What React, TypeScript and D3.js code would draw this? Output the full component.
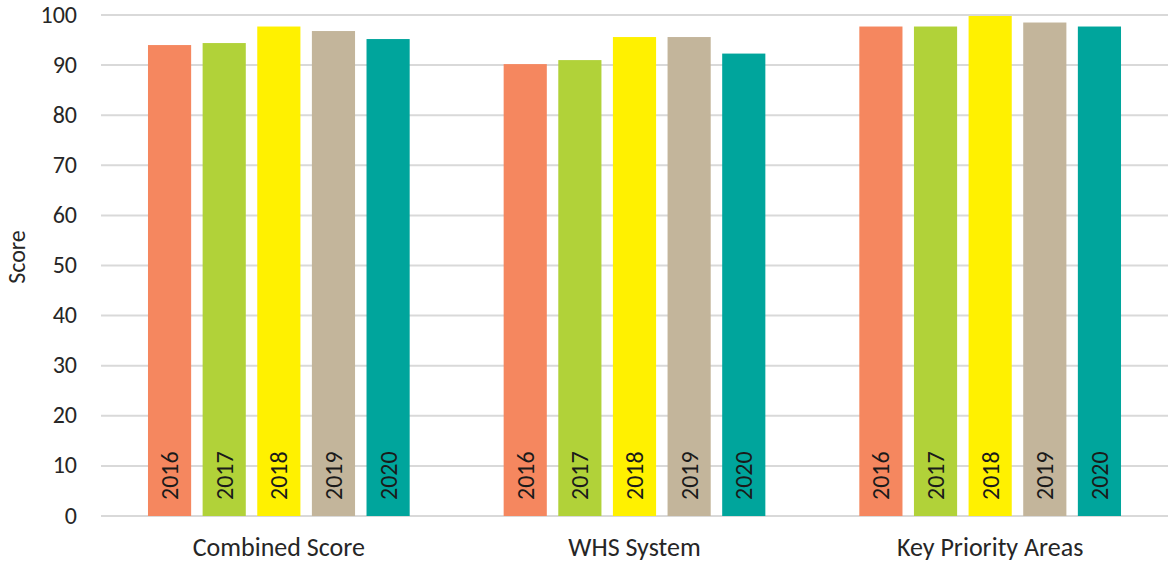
import React from "react";
import * as d3 from "d3";

const categories = ["Combined Score", "WHS System", "Key Priority Areas"];
const years = ["2016", "2017", "2018", "2019", "2020"];
const scores2016 = [94.0, 90.2, 97.7];
const scores2017 = [94.4, 91.0, 97.7];
const scores2018 = [97.7, 95.6, 99.8];
const scores2019 = [96.8, 95.6, 98.5];
const scores2020 = [95.2, 92.3, 97.7];
const yTicks = [0, 10, 20, 30, 40, 50, 60, 70, 80, 90, 100];
const yearColors = ["#F5875F", "#B1D239", "#FFF100", "#C3B59B", "#00A59C"];

const seriesValues = [scores2016, scores2017, scores2018, scores2019, scores2020];

const W = 1170;
const H = 562;
const FONT = "Calibri, Carlito, 'Liberation Sans', Arial, sans-serif";

export default function App() {
  const plotLeft = 101;
  const plotRight = 1168;
  const y = d3.scaleLinear().domain([0, 100]).range([516, 15]);
  const x0 = d3.scaleBand<string>().domain(categories).range([plotLeft, plotRight]).padding(0);
  const x1 = d3
    .scaleBand<string>()
    .domain(years)
    .range([0, x0.bandwidth()])
    .paddingInner(0.21)
    .paddingOuter(0.86);

  return (
    <div style={{ position: "absolute", left: 0, top: 0 }}>
      <svg width={W} height={H} style={{ display: "block", background: "#fff" }}>
        {/* horizontal gridlines */}
        {yTicks.map((t) => (
          <line
            key={"g" + t}
            x1={plotLeft}
            x2={plotRight}
            y1={y(t)}
            y2={y(t)}
            stroke="#d9d9d9"
            strokeWidth={2}
          />
        ))}
        {/* y tick labels */}
        {yTicks.map((t) => (
          <text
            key={"t" + t}
            x={77}
            y={y(t) - 1}
            textAnchor="end"
            dominantBaseline="central"
            fontFamily={FONT}
            fontSize={24}
            fill="#262626"
          >
            {t}
          </text>
        ))}
        {/* y axis title */}
        <text
          transform={`translate(25, 257) rotate(-90)`}
          textAnchor="middle"
          fontFamily={FONT}
          fontSize={24}
          fill="#262626"
        >
          Score
        </text>
        {/* bars */}
        {categories.map((cat, ci) => (
          <g key={cat} transform={`translate(${x0(cat)},0)`}>
            {years.map((yr, yi) => {
              const v = seriesValues[yi][ci];
              const bx = x1(yr) as number;
              const bw = x1.bandwidth();
              return (
                <g key={yr}>
                  <rect
                    x={bx}
                    y={y(v)}
                    width={bw}
                    height={y(0) - y(v)}
                    fill={yearColors[yi]}
                  />
                  <text
                    transform={`translate(${bx + bw / 2}, ${y(0) - 16}) rotate(-90)`}
                    textAnchor="start"
                    dominantBaseline="central"
                    fontFamily={FONT}
                    fontSize={24}
                    fill="#1a1a1a"
                  >
                    {yr}
                  </text>
                </g>
              );
            })}
          </g>
        ))}
        {/* category labels */}
        {categories.map((cat) => (
          <text
            key={"c" + cat}
            x={(x0(cat) as number) + x0.bandwidth() / 2}
            y={556}
            textAnchor="middle"
            fontFamily={FONT}
            fontSize={26}
            fill="#262626"
          >
            {cat}
          </text>
        ))}
      </svg>
    </div>
  );
}
